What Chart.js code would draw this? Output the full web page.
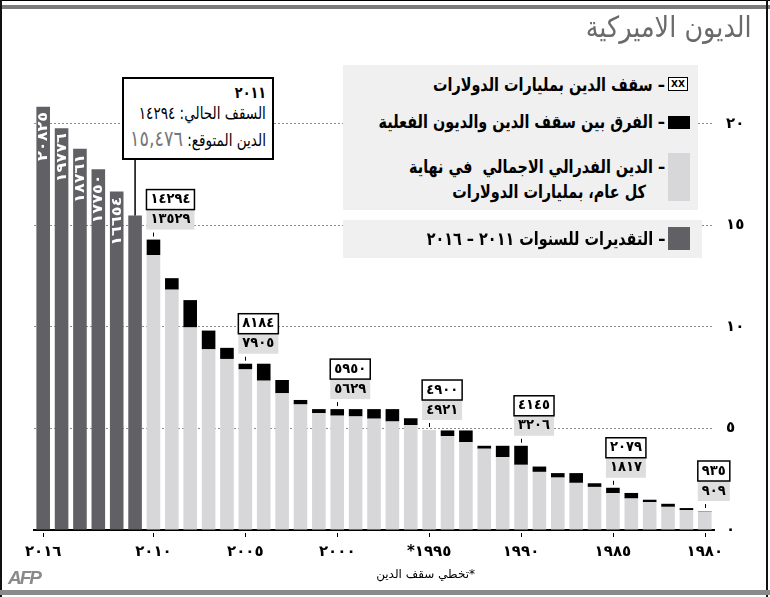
<!DOCTYPE html>
<html>
<head>
<meta charset="utf-8">
<script src="https://cdn.jsdelivr.net/npm/chart.js@4.4.1/dist/chart.umd.min.js"></script>
<style>
    body { margin: 0; width: 770px; height: 597px; position: relative; overflow: hidden; background: #fff; font-family: "DejaVu Sans", sans-serif; }
    #chart { position: absolute; left: 0; top: 0; }
    .abs { position: absolute; }
    .frame-top { left: 0; top: 0; width: 770px; height: 1px; background: #000; }
    .frame-band { left: 0; top: 5px; width: 770px; height: 4px; background: #7b7b7b; }
    .frame-left { left: 0; top: 0; width: 2px; height: 597px; background: #111; }
    .frame-right { left: 766px; top: 0; width: 2px; height: 597px; background: #111; }
    .frame-bottom { left: 0; top: 590px; width: 770px; height: 5px; background: #8a8a8a; }
    .title { right: 18px; top: 10px; font-size: 29px; color: #6a6a6a; direction: rtl; white-space: nowrap; transform: scaleX(0.88); transform-origin: right center; }
    .leg-box { background: #f0f0f0; }
    .leg-text { right: 105px; direction: rtl; white-space: nowrap; font-weight: bold; font-size: 18px; color: #000; line-height: 25px; transform: scaleX(0.8); transform-origin: right center; }
    .sw { width: 22px; }
    .callout { left: 122px; top: 77px; width: 152px; height: 83px; box-sizing: border-box; border: 2px solid #000; background: #fff; }
    .callout div { position: absolute; right: 6px; direction: rtl; white-space: nowrap; color: #000; transform: scaleX(0.8); transform-origin: right center; }
    .note { right: 295px; top: 567px; font-size: 12px; direction: rtl; white-space: nowrap; }
    .afp { left: 8px; top: 567px; font-size: 19px; font-weight: bold; font-style: italic; color: #8a8a8a; letter-spacing: -2px; font-family: "Liberation Sans", sans-serif; }
</style>
</head>
<body>
<canvas id="chart" width="770" height="597"></canvas>

<div class="abs frame-top"></div>
<div class="abs frame-band"></div>
<div class="abs frame-left"></div>
<div class="abs frame-right"></div>
<div class="abs frame-bottom"></div>

<div class="abs title">الديون الاميركية</div>

<!-- Selite -->
<div class="abs leg-box" style="left:343px;top:65px;width:355px;height:145px;"></div>
<div class="abs leg-box" style="left:343px;top:220px;width:359px;height:38px;"></div>

<div class="abs" style="left:668px;top:77px;width:18px;height:12px;border:1px solid #000;background:#fff;font:bold 9px 'DejaVu Sans';text-align:center;line-height:12px;">XX</div>
<div class="abs leg-text" style="top:72px;">– سقف الدين بمليارات الدولارات</div>

<div class="abs sw" style="left:668px;top:116px;height:13px;background:#000;"></div>
<div class="abs leg-text" style="top:109px;">– الفرق بين سقف الدين والديون الفعلية</div>

<div class="abs sw" style="left:668px;top:153px;height:48px;background:#d7d7d9;"></div>
<div class="abs leg-text" style="top:154px;">– الدين الفدرالي الاجمالي&nbsp; في نهاية</div>
<div class="abs leg-text" style="top:179px;right:124px;">كل عام، بمليارات الدولارات</div>

<div class="abs sw" style="left:668px;top:227px;height:23px;background:#616165;"></div>
<div class="abs leg-text" style="top:226px;">– التقديرات للسنوات ٢٠١١ – ٢٠١٦</div>

<!-- 2011 laatikko -->
<div class="abs callout">
    <div style="top:4px;font-size:16px;font-weight:bold;">٢٠١١</div>
    <div style="top:24px;font-size:17px;">السقف الحالي: ١٤٢٩٤</div>
    <div style="top:47px;font-size:17px;">الدين المتوقع: <span style="color:#777;font-size:22px;">١٥,٤٧٦</span></div>
</div>

<div class="abs note">*تخطي سقف الدين</div>
<div class="abs afp">AFP</div>

<script>
// Vuodet (kategoriat)
const years = [1980, 1981, 1982, 1983, 1984, 1985, 1986, 1987, 1988, 1989,
               1990, 1991, 1992, 1993, 1994, 1995, 1996, 1997, 1998, 1999,
               2000, 2001, 2002, 2003, 2004, 2005, 2006, 2007, 2008, 2009,
               2010, 2011, 2012, 2013, 2014, 2015, 2016];

// Velkakatto, biljoonaa dollaria
const debtCeiling = [0.935, 1.079, 1.290, 1.490, 1.823, 2.079, 2.300, 2.800, 2.800, 3.123,
                     4.145, 4.145, 4.145, 4.900, 4.900, 4.900, 5.500, 5.950, 5.950, 5.950,
                     5.950, 5.950, 6.400, 7.384, 8.184, 8.184, 8.965, 9.815, 11.315, 12.394,
                     14.294, null, null, null, null, null, null];

// Toteutunut velka vuoden lopussa
const totalDebt = [0.909, 0.98, 1.14, 1.37, 1.55, 1.817, 2.12, 2.32, 2.58, 2.86,
                   3.206, 3.59, 4.00, 4.33, 4.62, 4.921, 5.16, 5.34, 5.48, 5.59,
                   5.629, 5.75, 6.18, 6.73, 7.35, 7.905, 8.42, 8.89, 9.97, 11.83,
                   13.529, null, null, null, null, null, null];

// Ennusteet 2011-2016
const projectedDebt = [null, null, null, null, null, null, null, null, null, null,
                       null, null, null, null, null, null, null, null, null, null,
                       null, null, null, null, null, null, null, null, null, null,
                       null, 15.476, 16.654, 17.750, 18.761, 19.776, 20.825];
const projYears = [2012, 2013, 2014, 2015, 2016];
const projTexts = ["١٦٦٥٤", "١٧٧٥٠", "١٨٧٦١", "١٩٧٧٦", "٢٠٨٢٥"];

// Merkityt vuodet: katto ja velka
const noteYears = [2010, 2005, 2000, 1995, 1990, 1985, 1980];
const noteCeilingTexts = ["١٤٢٩٤", "٨١٨٤", "٥٩٥٠", "٤٩٠٠", "٤١٤٥", "٢٠٧٩", "٩٣٥"];
const noteDebtTexts = ["١٣٥٢٩", "٧٩٠٥", "٥٦٢٩", "٤٩٢١", "٣٢٠٦", "١٨١٧", "٩٠٩"];

// Akselien tekstit
const xTickYears = [2016, 2010, 2005, 2000, 1995, 1990, 1985, 1980];
const xTickTexts = ["٢٠١٦", "٢٠١٠", "٢٠٠٥", "٢٠٠٠", "*١٩٩٥", "١٩٩٠", "١٩٨٥", "١٩٨٠"];
const yTicks = [0, 5, 10, 15, 20];
const yTickTexts = ["٠", "٥", "١٠", "١٥", "٢٠"];

// Katon ja velan erotus (musta pala)
const gap = debtCeiling.map((c, i) => c == null ? null : Math.max(c - totalDebt[i], 0));

// Tekstin piirto kapeaan tilaan
function fitText(ctx, txt, x, y, maxW) {
    const w = ctx.measureText(txt).width;
    const k = Math.min(1, maxW / w);
    ctx.save();
    ctx.translate(x, y);
    ctx.scale(k, 1);
    ctx.fillText(txt, 0, 0);
    ctx.restore();
}

// Merkinnät pylväiden päälle
const notesPlugin = {
    id: "notes",
    afterDatasetsDraw(chart) {
        const ctx = chart.ctx;
        const gapMeta = chart.getDatasetMeta(1);
        const projMeta = chart.getDatasetMeta(2);
        const xs = chart.scales.x;
        const base = chart.chartArea.bottom;
        ctx.save();

        // Pystytekstit ennustepylväisiin
        ctx.fillStyle = "#fff";
        ctx.font = "bold 14px 'DejaVu Sans'";
        ctx.textAlign = "right";
        ctx.textBaseline = "middle";
        projYears.forEach((yr, i) => {
            const bar = projMeta.data[years.indexOf(yr)];
            ctx.save();
            ctx.translate(bar.x, bar.y + 5);
            ctx.rotate(-Math.PI / 2);
            ctx.scale(1.15, 1);
            ctx.fillText(projTexts[i], 0, 0.5);
            ctx.restore();
        });

        // 2011 viiva laatikosta pylvääseen
        const b11 = projMeta.data[years.indexOf(2011)];
        ctx.strokeStyle = "#000";
        ctx.lineWidth = 1.5;
        ctx.beginPath();
        ctx.moveTo(b11.x, 160);
        ctx.lineTo(b11.x, b11.y);
        ctx.stroke();

        // Akselin pienet merkit
        ctx.lineWidth = 1;
        xTickYears.forEach(yr => {
            const x = Math.round(xs.getPixelForValue(years.indexOf(yr))) + 0.5;
            ctx.beginPath();
            ctx.moveTo(x, base + 3);
            ctx.lineTo(x, base + 7);
            ctx.stroke();
        });

        // Katto / velka laatikot
        ctx.font = "bold 14px 'DejaVu Sans'";
        ctx.textAlign = "center";
        noteYears.forEach((yr, i) => {
            const bar = gapMeta.data[years.indexOf(yr)];
            const digits = noteCeilingTexts[i].length;
            const w = digits * 8 + 8;
            const left = bar.x - 7;
            const bottom = bar.y - 10;
            const tx = Math.round(bar.x) + 0.5;

            // pieni merkki
            ctx.strokeStyle = "#000";
            ctx.lineWidth = 1;
            ctx.beginPath();
            ctx.moveTo(tx, bar.y - 7);
            ctx.lineTo(tx, bar.y - 3);
            ctx.stroke();

            ctx.fillStyle = "#dedede";
            ctx.fillRect(left, bottom - 20, w, 20);
            ctx.fillStyle = "#fff";
            ctx.fillRect(left, bottom - 40, w, 20);
            ctx.strokeStyle = "#000";
            ctx.lineWidth = 1.5;
            ctx.strokeRect(left, bottom - 40, w, 20);

            ctx.fillStyle = "#000";
            fitText(ctx, noteCeilingTexts[i], left + w / 2, bottom - 30, w - 8);
            fitText(ctx, noteDebtTexts[i], left + w / 2, bottom - 10, w - 8);
        });
        ctx.restore();
    }
};

new Chart(document.getElementById("chart"), {
    type: "bar",
    data: {
        labels: years,
        datasets: [
            { label: "debt", data: totalDebt, backgroundColor: "#d7d7d9" },
            { label: "gap", data: gap, backgroundColor: "#000" },
            { label: "projection", data: projectedDebt, backgroundColor: "#616165" }
        ]
    },
    options: {
        responsive: false,
        animation: false,
        devicePixelRatio: 1,
        layout: { padding: { left: 34, right: 0, top: 83, bottom: 0 } },
        datasets: { bar: { barPercentage: 0.74, categoryPercentage: 1.0 } },
        plugins: { legend: { display: false }, tooltip: { enabled: false } },
        scales: {
            x: {
                stacked: true,
                reverse: true,
                afterFit: s => { s.height = 67; },
                border: { display: true, color: "#000", width: 2 },
                grid: {
                    offset: false,
                    drawOnChartArea: false,
                    drawTicks: true,
                    tickLength: 8,
                    tickColor: "rgba(0,0,0,0)"
                },
                ticks: {
                    autoSkip: false,
                    maxRotation: 0,
                    padding: 5,
                    color: "#000",
                    font: { family: "DejaVu Sans", size: 15, weight: "bold" },
                    callback: (v) => {
                        const k = xTickYears.indexOf(years[v]);
                        return k < 0 ? "" : xTickTexts[k];
                    }
                }
            },
            y: {
                stacked: true,
                position: "right",
                min: 0,
                max: 22,
                afterFit: s => { s.width = 56; },
                afterBuildTicks: s => { s.ticks = yTicks.map(v => ({ value: v })); },
                border: { display: false, dash: [2, 2] },
                grid: {
                    drawTicks: false,
                    lineWidth: 1,
                    color: c => c.tick && c.tick.value === 0 ? "rgba(0,0,0,0)" : "#8c8c8c"
                },
                ticks: {
                    padding: 12,
                    color: "#000",
                    font: { family: "DejaVu Sans", size: 15, weight: "bold" },
                    callback: (v) => yTickTexts[yTicks.indexOf(v)]
                }
            }
        }
    },
    plugins: [notesPlugin]
});
</script>
</body>
</html>
